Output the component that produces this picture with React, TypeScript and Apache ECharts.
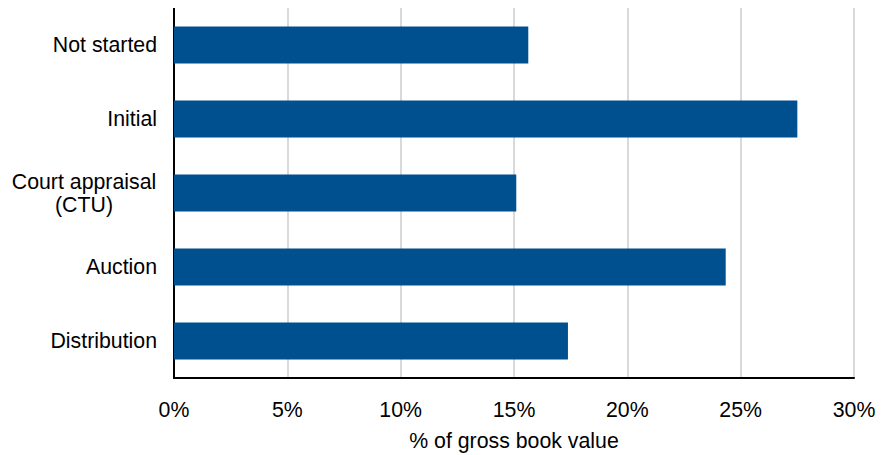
import React, { useEffect, useRef } from "react";
import * as echarts from "echarts";

const categories = ["Not started", "Initial", "Court appraisal\n(CTU)", "Auction", "Distribution"];
const values = [15.63, 27.5, 15.1, 24.34, 17.38];
const xTicks = [0, 5, 10, 15, 20, 25, 30];
const axisName = "% of gross book value";

export default function App() {
  const ref = useRef<HTMLDivElement>(null);
  useEffect(() => {
    if (!ref.current) return;
    const chart = echarts.init(ref.current, null, { renderer: "svg" });
    const font = "'Liberation Sans', Arial, sans-serif";
    const fs = 21.3;
    chart.setOption({
      animation: false,
      grid: { left: 166, right: 31, top: 0, bottom: 77, containLabel: false, outerBoundsMode: "none" },
      xAxis: {
        type: "value",
        min: xTicks[0],
        max: xTicks[xTicks.length - 1],
        interval: 5,
        name: axisName,
        nameLocation: "middle",
        nameGap: 52,
        nameTextStyle: { color: "#000", fontSize: fs, fontFamily: font },
        axisLine: { show: true, lineStyle: { color: "#000", width: 2 } },
        axisTick: { show: false },
        axisLabel: { color: "#000", fontSize: fs, fontFamily: font, margin: 21, formatter: (v: number) => v + "%" },
        splitLine: { show: true, lineStyle: { color: "#d9d9d9", width: 2 } },
      },
      yAxis: {
        type: "category",
        data: categories,
        inverse: true,
        axisLine: { show: true, onZero: false, lineStyle: { color: "#000", width: 2 } },
        axisTick: { show: false },
        axisLabel: {
          color: "#000",
          fontSize: fs,
          fontFamily: font,
          margin: 17,
          lineHeight: 23,
          formatter: (v: string) => (v.indexOf("\n") >= 0 ? v.split("\n").map((s) => "{c|" + s + "}").join("\n") : v),
          rich: { c: { width: 146, align: "center", fontSize: fs, fontFamily: font, color: "#000", lineHeight: 23 } },
        },
        splitLine: { show: false },
      },
      series: [
        {
          type: "bar",
          data: values,
          barWidth: 37,
          itemStyle: { color: "#004f8f" },
        },
      ],
    });
    return () => chart.dispose();
  }, []);
  return <div ref={ref} style={{ width: 877, height: 447 }} />;
}
